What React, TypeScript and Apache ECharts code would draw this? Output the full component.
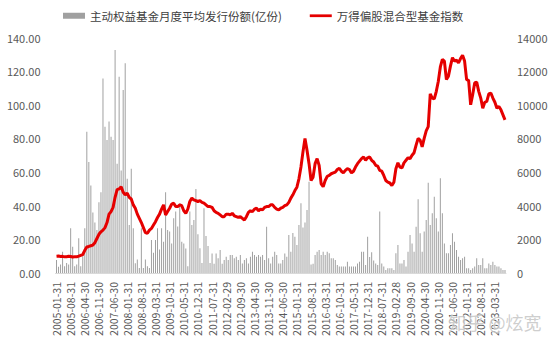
import React, { useEffect, useRef } from "react";
import * as echarts from "echarts";

// ---- tick / category definitions ----
const START_MONTH: [number, number] = [2005, 1];
const END_MONTH: [number, number] = [2023, 8];
const SKIPPED_MONTHS = ["2006-02"];

function buildCategories(): string[] {
  const out: string[] = [];
  let [y, m] = START_MONTH;
  while (y < END_MONTH[0] || (y === END_MONTH[0] && m <= END_MONTH[1])) {
    const key = `${y}-${String(m).padStart(2, "0")}`;
    if (!SKIPPED_MONTHS.includes(key)) {
      const d = new Date(y, m, 0).getDate();
      out.push(`${key}-${String(d).padStart(2, "0")}`);
    }
    m++;
    if (m > 12) { m = 1; y++; }
  }
  return out;
}
const categories = buildCategories();

const BAR_NAME = "主动权益基金月度平均发行份额(亿份)";
const LINE_NAME = "万得偏股混合型基金指数";

// ---- bar values (亿份), monthly ----
const bars2005_2007 = [
  7.7, 3.7, 5, 12.7, 4, 6, 5, 26.6, 15.6, 4, 5, 20.6, 4, 10, 26.6,
  84, 66, 52, 36, 30, 25.6, 42, 48, 115.7, 87, 79, 90, 81, 79, 132.6,
  65, 116.7, 61, 108.8, 124.7,
];
const bars2008_2012 = [
  56, 28.5, 62, 26.6, 5.8, 8, 3, 26.6, 3, 8, 4, 3, 19.6, 12, 19.6,
  26.6, 14, 26.6, 18.6, 48, 25.6, 24.6, 17.6, 32.5, 36.5,
  27.6, 41.4, 18.6, 17.6, 14.6, 4, 36.5, 28.5, 31.5, 50,
  23, 14.7, 6, 38.5, 22, 16, 6, 11.6, 5.5, 11.6,
  8.7, 13.7, 5.5, 7.7, 9.7, 7.7, 10.7, 10.7, 8.7, 9.7,
  7.7, 10.7, 5.7, 7.7, 8.7,
];
const bars2013_2017 = [
  5.7, 9.7, 12.6, 10.7, 9.7, 10.7, 9.7, 10.7, 7.7, 27.5, 8.7, 5.7,
  9.7, 12.6, 10.7, 5.7, 5.7, 7.7, 11.6, 9.7, 22.6, 12.6, 23.8, 21.6,
  16.6, 28.5, 41.4, 27, 30, 37.4, 54.3, 5, 5.5, 10.7, 12.6, 13.7,
  10.7, 12.6, 10.7, 12.6, 11.7, 8.7, 8.7, 7.7, 4.7, 3.8, 3.8, 3.8,
  3.8, 6.7, 3.8, 3.8, 3.8, 3.8, 5.7, 6.7, 12.7, 12.7, 4.7, 21.6,
];
const bars2018_2023 = [
  9.5, 12.4, 7.5, 5.7, 4.7, 36.5, 5.7, 3.8, 1.8, 2.8, 2.8, 2.8,
  1.8, 11.7, 16.6, 5.7, 5.7, 7.7, 3.8, 12.7, 22.6, 17.6, 12.7, 27.5,
  43.8, 23.6, 12.7, 24.6, 31.5, 53.7, 28.5, 35.5, 45.4, 32.5, 24.6, 56.3,
  35.5, 17.6, 11.7, 11.7, 16.6, 23.6, 18.6, 13.7, 9.7, 7.7, 8.7, 9.7,
  2.8, 2.8, 1.8, 2.8, 3.8, 8.7, 4.7, 4.7, 8.7, 2.8, 2.8, 5.7,
  4.7, 6.7, 4.7, 3.8, 3.8, 2.8, 1.8, 1.8,
];
const barValues = [...bars2005_2007, ...bars2008_2012, ...bars2013_2017, ...bars2018_2023];

// ---- index values, monthly ----
const idx2005_2007 = [
  1000, 1010, 980, 990, 960, 970, 1000, 980, 950, 960, 960, 1000, 1050,
  1100, 1350, 1550, 1580, 1620, 1660, 1800, 2050, 2300, 2450,
  2550, 2700, 3000, 3500, 3650, 3900, 4500, 4950, 5000, 5130, 4800, 4650,
];
const idx2008_2012 = [
  4750, 4500, 4400, 4050, 3850, 3500, 3250, 3000, 2700, 2400, 2360, 2550,
  2650, 2850, 3050, 3300, 3500, 3800, 4050, 3450, 3650, 3850, 4100, 4150,
  3950, 3950, 4050, 4000, 3700, 3550, 3800, 4250, 4450, 4350, 4300, 4250,
  4300, 4200, 4150, 4050, 3950, 3950, 3900, 3700, 3600, 3550, 3450, 3350,
  3350, 3500, 3500, 3450, 3550, 3400, 3350, 3300, 3350, 3250, 3150, 3350,
];
const idx2013_2017 = [
  3600, 3700, 3650, 3800, 3850, 3700, 3800, 3750, 3900, 3950, 3950, 4050,
  4050, 3900, 3800, 3750, 3850, 3900, 4000, 4050, 4200, 4450, 4650, 4900,
  5100, 5600, 6300, 7200, 8000, 7300, 6500, 5500, 5700, 6500, 6800, 6400,
  5300, 5130, 5500, 5750, 5800, 5900, 5950, 6000, 6150, 6220, 6050, 5950,
  6100, 6200, 6150, 5950, 6050, 6300, 6500, 6650, 6800, 6900, 6700, 6850,
];
const idx2018_2023 = [
  6900, 6700, 6600, 6400, 6350, 6100, 6050, 5800, 5500, 5400, 5350, 5200,
  5400, 6200, 6550, 6300, 6250, 6550, 6700, 6850, 6800, 7000, 7150, 7600,
  8000, 7900, 7500, 8000, 8450, 8700, 10650, 10400, 10350, 10800, 11400, 12250,
  12700, 12600, 11500, 11700, 12300, 12800, 12600, 12650, 12500, 12750, 12950, 12600,
  11500, 11450, 10000, 10600, 11300, 11350, 10800, 10400, 9800, 10150, 10200, 10650,
  10700, 10400, 10150, 9800, 9900, 9700, 9400, 9100,
];
const lineValues = [...idx2005_2007, ...idx2008_2012, ...idx2013_2017, ...idx2018_2023];

const LEFT_TICKS = { min: 0, max: 140, interval: 20 };
const RIGHT_TICKS = { min: 0, max: 14000, interval: 2000 };

const FONT = "'Noto Sans CJK SC', 'Noto Sans', sans-serif";

export default function App() {
  const ref = useRef<HTMLDivElement>(null);
  useEffect(() => {
    if (!ref.current) return;
    const chart = echarts.init(ref.current, undefined, { renderer: "svg" });
    chart.setOption({
      animation: false,
      backgroundColor: "#ffffff",
      textStyle: { fontFamily: FONT },
      legend: {
        top: 5,
        left: 58,
        itemWidth: 22,
        itemHeight: 6,
        itemGap: 28,
        symbolKeepAspect: true,
        textStyle: { fontSize: 11.5, color: "#404040", fontFamily: FONT },
        data: [
          { name: BAR_NAME, icon: "rect" },
          { name: LINE_NAME, icon: "path://M0,0H24V3H0Z" },
        ],
      },
      grid: { left: 55.5, right: 47, top: 37.5, bottom: 73, containLabel: false },
      xAxis: {
        type: "category",
        data: categories,
        boundaryGap: true,
        axisLine: { show: true, lineStyle: { color: "#d9d9d9", width: 1 } },
        axisTick: { show: false },
        axisLabel: {
          interval: 6,
          rotate: 90,
          margin: 9,
          fontSize: 10.5,
          color: "#595959",
          fontFamily: FONT,
        },
        splitLine: { show: false },
      },
      yAxis: [
        {
          type: "value",
          ...LEFT_TICKS,
          position: "left",
          axisLine: { show: false },
          axisTick: { show: false },
          splitLine: { show: false },
          axisLabel: {
            margin: 15,
            fontSize: 11,
            color: "#595959",
            fontFamily: FONT,
            formatter: (v: number) => v.toFixed(2),
          },
        },
        {
          type: "value",
          ...RIGHT_TICKS,
          position: "right",
          axisLine: { show: false },
          axisTick: { show: false },
          splitLine: { show: false },
          axisLabel: {
            margin: 11,
            fontSize: 11,
            color: "#595959",
            fontFamily: FONT,
            formatter: (v: number) => String(v),
          },
        },
      ],
      series: [
        {
          name: BAR_NAME,
          type: "bar",
          yAxisIndex: 0,
          data: barValues,
          barWidth: 1,
          itemStyle: { color: "#a0a0a0" },
        },
        {
          name: LINE_NAME,
          type: "line",
          yAxisIndex: 1,
          data: lineValues,
          symbol: "none",
          lineStyle: { color: "#e50000", width: 3 },
          itemStyle: { color: "#e50000" },
        },
      ],
      graphic: [
        {
          type: "text",
          left: 448,
          top: 312,
          silent: true,
          z: 100,
          style: {
            text: "知乎 @炫宽",
            fontSize: 18,
            fill: "rgba(185,185,185,0.7)",
            stroke: "rgba(255,255,255,0.6)",
            lineWidth: 1,
            fontFamily: FONT,
          },
        },
      ],
    });
    return () => chart.dispose();
  }, []);
  return (
    <div
      ref={ref}
      style={{ position: "fixed", left: 0, top: 0, width: 553, height: 346, background: "#fff" }}
    />
  );
}
